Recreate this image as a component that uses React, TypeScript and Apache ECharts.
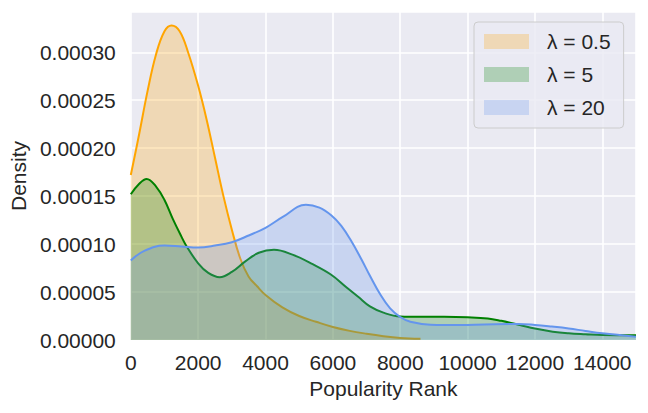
import React, { useEffect, useRef } from "react";
import * as echarts from "echarts";

const seriesNames = ["λ = 0.5", "λ = 5", "λ = 20"];
const seriesColors = ["#FFA500", "#008000", "#6495ED"];

const rankLow = [0, 250, 500, 750, 1000, 1210, 1450, 1700, 2000, 2250, 2500, 2750, 3000, 3250, 3500, 3750, 4000, 4500, 5000, 5500, 6000, 6500, 7000, 7500, 8000, 8600];
const densLow = [17.2e-5, 21.5e-5, 26.0e-5, 29.8e-5, 32.2e-5, 32.8e-5, 32.2e-5, 30.0e-5, 26.5e-5, 23.0e-5, 19.0e-5, 15.0e-5, 11.5e-5, 8.5e-5, 6.6e-5, 5.6e-5, 4.7e-5, 3.4e-5, 2.5e-5, 1.9e-5, 1.35e-5, 0.95e-5, 0.65e-5, 0.4e-5, 0.22e-5, 0.12e-5];

const rankMid = [0, 250, 470, 750, 1000, 1250, 1500, 1650, 2000, 2300, 2640, 3000, 3400, 3800, 4250, 4800, 5400, 5950, 6400, 6750, 7100, 7500, 8000, 8600, 9300, 10000, 10600, 11000, 11550, 12000, 12530, 13000, 13500, 14000, 15000];
const densMid = [15.2e-5, 16.3e-5, 16.8e-5, 16.0e-5, 14.6e-5, 12.6e-5, 10.8e-5, 9.8e-5, 8.0e-5, 7.0e-5, 6.55e-5, 7.1e-5, 8.2e-5, 9.1e-5, 9.4e-5, 8.9e-5, 7.9e-5, 6.8e-5, 5.5e-5, 4.5e-5, 3.5e-5, 2.85e-5, 2.45e-5, 2.42e-5, 2.42e-5, 2.37e-5, 2.25e-5, 2.0e-5, 1.57e-5, 1.2e-5, 0.87e-5, 0.7e-5, 0.6e-5, 0.52e-5, 0.5e-5];

const rankHigh = [0, 400, 1000, 1500, 2000, 2500, 3000, 3500, 4000, 4500, 5200, 5600, 5950, 6250, 6550, 6850, 7100, 7400, 7700, 8000, 8300, 8900, 9800, 10500, 11500, 12000, 12500, 13000, 13500, 14000, 15000];
const densHigh = [8.3e-5, 9.3e-5, 9.85e-5, 9.75e-5, 9.65e-5, 9.85e-5, 10.2e-5, 10.9e-5, 11.7e-5, 12.8e-5, 14.1e-5, 13.8e-5, 13.0e-5, 11.9e-5, 10.3e-5, 8.4e-5, 6.7e-5, 4.8e-5, 3.3e-5, 2.4e-5, 1.9e-5, 1.6e-5, 1.57e-5, 1.62e-5, 1.67e-5, 1.57e-5, 1.4e-5, 1.2e-5, 0.94e-5, 0.7e-5, 0.35e-5];

const xMin = 0;
const xMax = 15000;
const xInterval = 2000;
const yMin = 0;
const yMax = 0.000342;
const yInterval = 0.00005;

const FONT = "'Liberation Sans', Arial, sans-serif";
const TEXT = "#262626";
const FS = 21;

function zip(xs: number[], ys: number[]) {
  return xs.map((x, i) => [x, ys[i]]);
}

function rgba(hex: string, a: number) {
  const n = parseInt(hex.slice(1), 16);
  return `rgba(${(n >> 16) & 255},${(n >> 8) & 255},${n & 255},${a})`;
}

export default function App() {
  const ref = useRef<HTMLDivElement>(null);
  useEffect(() => {
    if (!ref.current) return;
    const chart = echarts.init(ref.current, undefined, { renderer: "svg" });
    const datasets = [zip(rankLow, densLow), zip(rankMid, densMid), zip(rankHigh, densHigh)];
    chart.setOption({
      animation: false,
      textStyle: { fontFamily: FONT },
      grid: {
        left: 129,
        top: 12,
        right: 12,
        bottom: 73,
        show: true,
        backgroundColor: "#EAEAF2",
        borderWidth: 0,
      },
      legend: {
        orient: "vertical",
        left: 474,
        top: 22,
        padding: [9, 13, 10, 10],
        itemWidth: 45,
        itemHeight: 15,
        itemGap: 12,
        icon: "rect",
        backgroundColor: "rgba(234,234,242,0.8)",
        borderColor: "#cccccc",
        borderWidth: 1,
        borderRadius: 4,
        textStyle: {
          fontFamily: FONT,
          fontSize: FS,
          color: TEXT,
          lineHeight: 21,
          padding: [0, 0, 0, 13],
        },
        data: seriesNames.map((n, i) => ({
          name: n,
          itemStyle: { color: rgba(seriesColors[i], 0.25), borderWidth: 0 },
        })),
      },
      xAxis: {
        type: "value",
        min: xMin,
        max: xMax,
        interval: xInterval,
        name: "Popularity Rank",
        nameLocation: "middle",
        nameGap: 37,
        nameTextStyle: { fontFamily: FONT, fontSize: FS, color: TEXT },
        axisLine: { show: false },
        axisTick: { show: false },
        axisLabel: {
          fontFamily: FONT,
          fontSize: FS,
          color: TEXT,
          margin: 12,
          showMaxLabel: false,
          formatter: (v: number) => String(v),
        },
        splitLine: { show: true, lineStyle: { color: "#ffffff", width: 1.6 } },
      },
      yAxis: {
        type: "value",
        min: yMin,
        max: yMax,
        interval: yInterval,
        name: "Density",
        nameLocation: "middle",
        nameGap: 95,
        nameTextStyle: { fontFamily: FONT, fontSize: FS, color: TEXT },
        axisLine: { show: false },
        axisTick: { show: false },
        axisLabel: {
          fontFamily: FONT,
          fontSize: FS,
          color: TEXT,
          margin: 15,
          showMaxLabel: false,
          formatter: (v: number) => v.toFixed(5),
        },
        splitLine: { show: true, lineStyle: { color: "#ffffff", width: 1.6 } },
      },
      series: datasets.map((d, i) => ({
        name: seriesNames[i],
        type: "line",
        data: d,
        smooth: 0.4,
        showSymbol: false,
        symbol: "none",
        clip: true,
        lineStyle: { color: seriesColors[i], width: 2 },
        itemStyle: { color: seriesColors[i] },
        areaStyle: { color: seriesColors[i], opacity: 0.25 },
        z: 2 + i,
      })),
    });
    return () => chart.dispose();
  }, []);
  return (
    <div
      ref={ref}
      style={{ position: "absolute", left: 0, top: 0, width: 648, height: 413 }}
    />
  );
}
